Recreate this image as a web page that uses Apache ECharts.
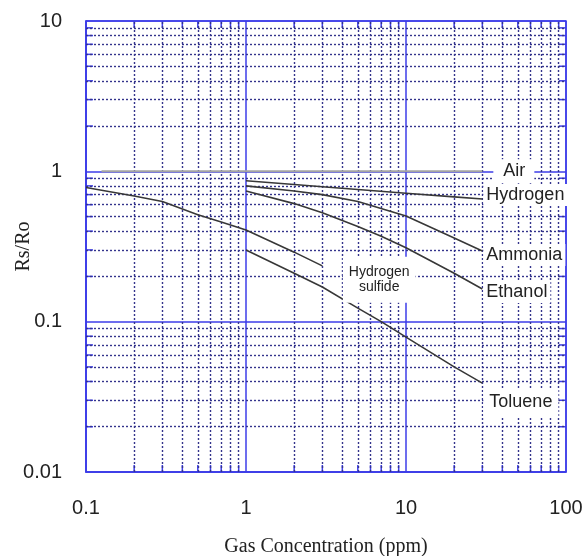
<!DOCTYPE html>
<html>
<head>
<meta charset="utf-8">
<script src="https://cdn.jsdelivr.net/npm/echarts@6/dist/echarts.min.js"></script>
<style>html,body{margin:0;padding:0;background:#fff}#c{width:584px;height:556px}</style>
</head>
<body>
<div id="c"></div>
<script>
// ---- data ----
const xRange = [0.1, 100];
const yRange = [0.01, 10];
const xMinor = [0.2,0.3,0.4,0.5,0.6,0.7,0.8,0.9, 2,3,4,5,6,7,8,9, 20,30,40,50,60,70,80,90];
const yMinor = [0.02,0.03,0.04,0.05,0.06,0.07,0.08,0.09, 0.2,0.3,0.4,0.5,0.6,0.7,0.8,0.9, 2,3,4,5,6,7,8,9];

const airX = [0.125, 30];
const airY = [1.0, 1.0];
const hydrogenX = [1, 2, 3, 5, 10, 20, 30];
const hydrogenY = [0.865, 0.817, 0.79, 0.757, 0.715, 0.676, 0.655];
const ammoniaX = [1, 2, 3, 5, 10, 20, 30];
const ammoniaY = [0.80, 0.74, 0.70, 0.63, 0.505, 0.36, 0.295];
const ethanolX = [1, 2, 3, 5, 7, 10, 20, 30];
const ethanolY = [0.74, 0.61, 0.53, 0.43, 0.37, 0.31, 0.21, 0.165];
const h2sX = [0.1, 0.2, 0.3, 0.5, 0.7, 1, 2, 3];
const h2sY = [0.78, 0.685, 0.63, 0.515, 0.46, 0.407, 0.29, 0.235];
const tolueneX = [1, 2, 3, 5, 7, 10, 20, 30];
const tolueneY = [0.30, 0.21, 0.17, 0.123, 0.10, 0.079, 0.05, 0.039];
const h2sLabelAt = [6.8, 0.19];

// ---- styles ----
const BLUE = '#3d3de8';
const DOT = '#34348c';
const CURVE = '#383838';
const SANS = "'Liberation Sans', Arial, sans-serif";
const SERIF = "'Liberation Serif', 'Times New Roman', serif";

const zip = (xs, ys) => xs.map((x, i) => [x, ys[i]]);

function curve(name, xs, ys, color, width, lab) {
  return {
    name, type: 'line', data: zip(xs, ys), showSymbol: false, symbol: 'none',
    smooth: false, z: 5,
    lineStyle: { color, width },
    endLabel: Object.assign({
      show: true, formatter: '{a}', position: 'right', align: 'left', verticalAlign: 'middle',
      fontFamily: SANS, fontSize: 18, color: '#222', backgroundColor: '#fff'
    }, lab)
  };
}

function tickSeries(data, size, offset) {
  return {
    type: 'scatter', data, symbol: 'rect', symbolSize: size, symbolOffset: offset,
    itemStyle: { color: BLUE, opacity: 1 }, silent: true, clip: false, z: 3
  };
}

const chart = echarts.init(document.getElementById('c'), null, { renderer: 'canvas' });
chart.setOption({
  animation: false,
  backgroundColor: '#fff',
  grid: { left: 86, right: 18, top: 21, bottom: 84, containLabel: false, outerBoundsMode: 'none',
          show: true, borderColor: BLUE, borderWidth: 1.5, backgroundColor: 'transparent' },
  xAxis: {
    type: 'log', logBase: 10, min: xRange[0], max: xRange[1],
    name: 'Gas Concentration (ppm)', nameLocation: 'middle', nameGap: 65, nameMoveOverlap: false,
    nameTextStyle: { fontFamily: SERIF, fontSize: 20, color: '#222' },
    axisLine: { lineStyle: { color: BLUE, width: 1.5 } },
    axisTick: { show: false },
    axisLabel: { fontFamily: SANS, fontSize: 20, color: '#222', margin: 26 },
    splitLine: { show: true, lineStyle: { color: BLUE, width: 1.5 } }
  },
  yAxis: {
    type: 'log', logBase: 10, min: yRange[0], max: yRange[1],
    name: 'Rs/Ro', nameLocation: 'middle', nameGap: 52, nameMoveOverlap: false,
    nameTextStyle: { fontFamily: SERIF, fontSize: 20, color: '#222' },
    axisLine: { lineStyle: { color: BLUE, width: 1.5 } },
    axisTick: { show: false },
    axisLabel: { fontFamily: SANS, fontSize: 20, color: '#222', margin: 24 },
    splitLine: { show: true, lineStyle: { color: BLUE, width: 1.5 } }
  },
  series: [
    Object.assign(tickSeries(xMinor.map(v => [v, yRange[0]]), [1.5, 7], [0, -3.5]), {
      markLine: {
        silent: true, symbol: 'none', animation: false,
        label: { show: false },
        lineStyle: { color: DOT, width: 1.4, type: [2, 2] },
        data: xMinor.map(v => ({ xAxis: v })).concat(yMinor.map(v => ({ yAxis: v })))
      }
    }),
    tickSeries(xMinor.map(v => [v, yRange[1]]), [1.5, 7], [0, 3.5]),
    tickSeries(yMinor.map(v => [xRange[0], v]), [7, 1.5], [3.5, 0]),
    tickSeries(yMinor.map(v => [xRange[1], v]), [7, 1.5], [-3.5, 0]),
    curve('Air', airX, airY, '#a3a3a3', 2, { distance: 11, padding: [3, 9, 3, 10], offset: [0, 0] }),
    curve('Hydrogen', hydrogenX, hydrogenY, CURVE, 1.6, { distance: 1, padding: [2, 3, 2, 3], offset: [0, -4] }),
    curve('Ammonia', ammoniaX, ammoniaY, CURVE, 1.6, { distance: 1, padding: [2, 3, 2, 3], offset: [0, 4] }),
    curve('Ethanol', ethanolX, ethanolY, CURVE, 1.6, { distance: 1, padding: [2, 3, 2, 3], offset: [0, 3] }),
    curve('Toluene', tolueneX, tolueneY, CURVE, 1.6, { distance: 1, padding: [5, 6, 5, 6], offset: [0, 19] }),
    curve('Hydrogen sulfide', h2sX, h2sY, CURVE, 1.6, { show: false }),
    {
      type: 'scatter', data: [h2sLabelAt], symbolSize: 1, silent: true, z: 6,
      itemStyle: { color: 'transparent', opacity: 1 },
      label: {
        show: true, position: 'inside', formatter: 'Hydrogen\nsulfide', align: 'center', verticalAlign: 'middle',
        fontFamily: SANS, fontSize: 14, lineHeight: 15, color: '#222', opacity: 1,
        backgroundColor: '#fff', padding: [8, 6, 8, 6]
      }
    }
  ]
});
</script>
</body>
</html>
